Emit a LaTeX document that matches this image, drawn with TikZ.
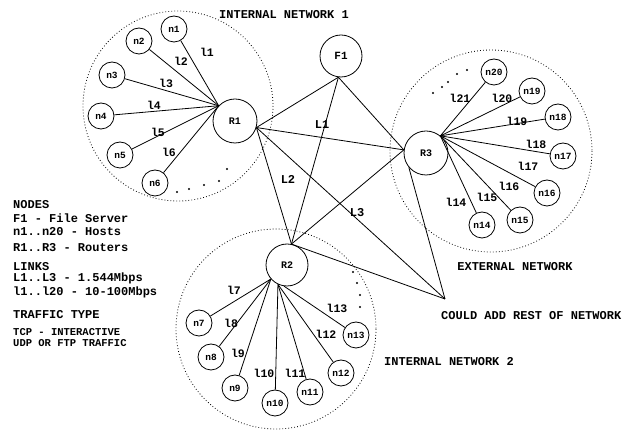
\documentclass[tikz,border=0pt]{standalone}
\usepackage{fontspec}
\setmainfont{Liberation Mono}
\begin{document}
\begin{tikzpicture}[x=1pt,y=-1pt,
  lnk/.style={line width=0.8pt},
  host/.style={circle,draw,line width=0.8pt,inner sep=0pt,minimum size=26pt,font=\bfseries\fontsize{9.5}{10}\selectfont},
  router/.style={circle,draw,line width=0.8pt,inner sep=0pt,minimum size=44pt,font=\bfseries\fontsize{10}{11}\selectfont},
  net/.style={draw,line width=0.8pt,dash pattern=on 0.8pt off 2.2pt},
  llab/.style={inner sep=0pt,font=\bfseries\fontsize{11.5}{12}\selectfont},
  Llab/.style={inner sep=0pt,font=\bfseries\fontsize{12}{13}\selectfont},
  big/.style={inner sep=0pt,anchor=base west,font=\bfseries\fontsize{12}{13}\selectfont},
  small/.style={inner sep=0pt,anchor=base west,font=\bfseries\fontsize{10.5}{12}\selectfont},
  dotm/.style={circle,fill,inner sep=0pt,minimum size=2.4pt}]
\useasboundingbox (0,0) rectangle (625,430);
% network regions
\draw[net] (178,106) circle[radius=95];
\draw[net] (491,151) circle[radius=101];
\draw[net] (276,329) circle[radius=100];
% main nodes
\node[router] (R1) at (235,121) {R1};
\node[router,minimum size=42pt,font=\bfseries\fontsize{11}{12}\selectfont] (F1) at (341,56) {F1};
\node[router] (R3) at (426,153) {R3};
\node[router,minimum size=42pt] (R2) at (287,265) {R2};
\coordinate (X) at (445,299);
% hosts network 1
\node[host] (n1) at (174,29) {n1};
\node[host] (n2) at (139,41) {n2};
\node[host] (n3) at (112,75) {n3};
\node[host] (n4) at (101,116) {n4};
\node[host] (n5) at (120,155) {n5};
\node[host] (n6) at (155,183) {n6};
\foreach \h in {n1,n2,n3,n4,n5,n6} \draw[lnk] (\h) -- (R1.137);
\node[llab] (l1) at (207,52) {l1};
\node[llab] (l2) at (181,61) {l2};
\node[llab] (l3) at (166,83) {l3};
\node[llab] (l4) at (154,105) {l4};
\node[llab] (l5) at (158,132) {l5};
\node[llab] (l6) at (169,152) {l6};
\foreach \p [count=\i] in {(177,192),(189,189),(204,185),(219,181),(227,169)} \node[dotm] (da\i) at \p {};
% hosts external network
\node[host] (n20) at (494,72) {n20};
\node[host] (n19) at (532,91) {n19};
\node[host] (n18) at (558,117) {n18};
\node[host] (n17) at (563,156) {n17};
\node[host] (n16) at (547,193) {n16};
\node[host] (n15) at (520,220) {n15};
\node[host] (n14) at (482,225) {n14};
\foreach \h in {n14,n15,n16,n17,n18,n19,n20} \draw[lnk] (\h) -- (R3.50);
\node[llab] (l21) at (460,98) {l21};
\node[llab] (l20) at (502,98) {l20};
\node[llab] (l19) at (517,121) {l19};
\node[llab] (l18) at (536,144) {l18};
\node[llab] (l17) at (528,166) {l17};
\node[llab] (l16) at (509,186) {l16};
\node[llab] (l15) at (487,197) {l15};
\node[llab] (l14) at (456,202) {l14};
\foreach \p [count=\i] in {(433,93),(442,87),(448,82),(457,74),(467,70)} \node[dotm] (db\i) at \p {};
% hosts network 2
\node[host] (n7) at (199,323) {n7};
\node[host] (n8) at (211,357) {n8};
\node[host] (n9) at (235,388) {n9};
\node[host] (n10) at (275,403) {n10};
\node[host] (n11) at (310,392) {n11};
\node[host] (n12) at (341,373) {n12};
\node[host] (n13) at (356,335) {n13};
\foreach \h in {n7,n8,n9} \draw[lnk] (\h) -- (R2.221);
\foreach \h in {n10,n11,n12} \draw[lnk] (\h) -- (R2.245);
\draw[lnk] (n13) -- (R2.262);
\node[llab] (l7) at (234,290) {l7};
\node[llab] (l8) at (231,323) {l8};
\node[llab] (l9) at (238,353) {l9};
\node[llab] (l10) at (264,373) {l10};
\node[llab] (l11) at (295,373) {l11};
\node[llab] (l12) at (326,334) {l12};
\node[llab] (l13) at (337,308) {l13};
\foreach \p [count=\i] in {(353,272),(357,283),(360,295),(360,307)} \node[dotm] (dc\i) at \p {};
% backbone
\draw[lnk] (R1.-17) -- (F1.263);
\draw[lnk] (R1.-17) -- (R3.172);
\draw[lnk] (R1.-17) -- (R2.78);
\draw[lnk] (R1.-17) -- (X);
\draw[lnk] (F1.263) -- (R2.78);
\draw[lnk] (F1.263) -- (R3.172);
\draw[lnk] (R2.78) -- (R3.172);
\draw[lnk] (R2.78) -- (X);
\draw[lnk] (R3.220) -- (X);
\node[Llab] (L1) at (322,125) {L1};
\node[Llab] (L2) at (288,179) {L2};
\node[Llab] (L3) at (357,213) {L3};
% titles
\node[Llab] (t1) at (284,15) {INTERNAL NETWORK 1};
\node[Llab] (t2) at (515,267) {EXTERNAL NETWORK};
\node[big] (t3) at (441,320) {COULD ADD REST OF NETWORK};
\node[big] (t4) at (384,366) {INTERNAL NETWORK 2};
% legend
\node[big] (g1) at (13,209) {NODES};
\node[big] (g2) at (13,223) {F1 - File Server};
\node[big] (g3) at (13,236) {n1..n20 - Hosts};
\node[big] (g4) at (13,252) {R1..R3 - Routers};
\node[big] (g5) at (13,271) {LINKS};
\node[big] (g6) at (13,282) {L1..L3 - 1.544Mbps};
\node[big] (g7) at (13,296) {l1..l20 - 10-100Mbps};
\node[big] (g8) at (13,319) {TRAFFIC TYPE};
\node[small] (g9) at (13,336) {TCP - INTERACTIVE};
\node[small] (g10) at (13,347) {UDP OR FTP TRAFFIC};
\end{tikzpicture}
\end{document}
